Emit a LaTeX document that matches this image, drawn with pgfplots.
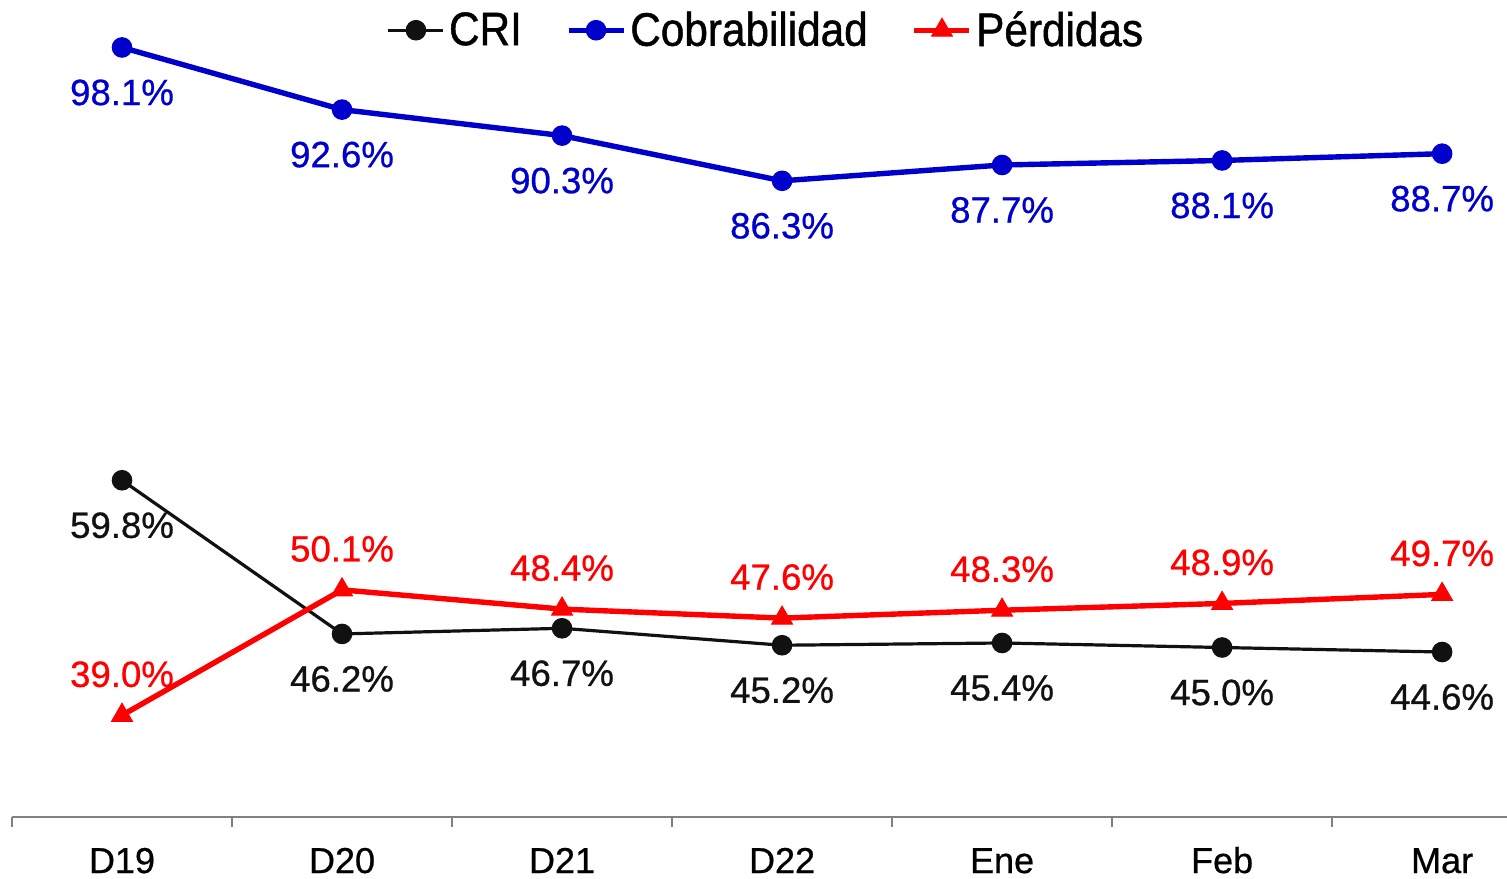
\documentclass[border=0pt]{standalone}
\usepackage{fontspec}
\setmainfont{Liberation Sans}[FakeBold=0.7]
\newfontfamily\narrowfont[FakeStretch=0.9,FakeBold=1.0]{Liberation Sans}
\usepackage{pgfplots}
\pgfplotsset{compat=1.18}
\definecolor{cobblue}{RGB}{0,0,204}
\definecolor{perdred}{RGB}{255,0,0}
\definecolor{crib}{RGB}{17,17,17}
\begin{document}
\begin{tikzpicture}[x=1pt,y=1pt]
\begin{axis}[
  scale only axis, width=747.5pt, height=408.5pt,
  xmin=-0.5, xmax=6.295, ymin=30, ymax=102.3,
  clip=false,
  axis x line=bottom, axis y line=none,
  axis line style={-, draw=gray, line width=0.8pt},
  xtick={0,...,6}, xticklabels={D19,D20,D21,D22,Ene,Feb,Mar},
  major tick length=0pt,
  minor xtick={-0.5,0.5,...,5.5},
  minor tick length=5pt, tick align=outside,
  tick style={draw=gray, line width=0.8pt},
  xticklabel style={font=\fontsize{18}{21}\selectfont, anchor=base, yshift=-28pt},
  /pgf/number format/assume math mode=true,
  nodes near coords={\pgfmathprintnumber[fixed,fixed zerofill,precision=1]{\pgfplotspointmeta}\%},
  nodes near coords style={font=\fontsize{18.3}{21}\selectfont, anchor=center},
  legend style={at={(0.505,0.963)}, anchor=center, draw=none, fill=none,
    legend columns=3, font=\narrowfont\fontsize{23.5}{26}\selectfont,
    /tikz/every even column/.append style={column sep=20pt},
    nodes={inner xsep=2pt}},
  legend image code/.code={\draw[mark repeat=2,mark phase=2,#1] plot coordinates {(0pt,0pt) (13.75pt,0pt) (27.5pt,0pt)};},
]
\coordinate (sw) at (rel axis cs:0,0);
\addplot[crib, line width=1.6pt, mark=*, mark size=4.9pt, mark options={solid, line width=0.5pt},
  every node near coord/.append style={text=crib, yshift=-22.5pt}]
  coordinates {(0,59.8) (1,46.2) (2,46.7) (3,45.2) (4,45.4) (5,45.0) (6,44.6)};
\addlegendentry{CRI}
\addplot[cobblue, line width=2.7pt, mark=*, mark size=4.9pt, mark options={solid, line width=0.5pt},
  every node near coord/.append style={text=cobblue, yshift=-22.5pt}]
  coordinates {(0,98.1) (1,92.6) (2,90.3) (3,86.3) (4,87.7) (5,88.1) (6,88.7)};
\addlegendentry{Cobrabilidad}
\addplot[perdred, line width=2.7pt, mark=triangle*, mark size=6pt, mark options={solid, line width=0.5pt},
  every node near coord/.append style={text=perdred, yshift=20.5pt}]
  coordinates {(0,39.0) (1,50.1) (2,48.4) (3,47.6) (4,48.3) (5,48.9) (6,49.7)};
\addlegendentry{Pérdidas}
\end{axis}
\pgfresetboundingbox
\useasboundingbox ([shift={(-6pt,-30.5pt)}]sw) rectangle ++(753.5pt,439pt);
\end{tikzpicture}
\end{document}
